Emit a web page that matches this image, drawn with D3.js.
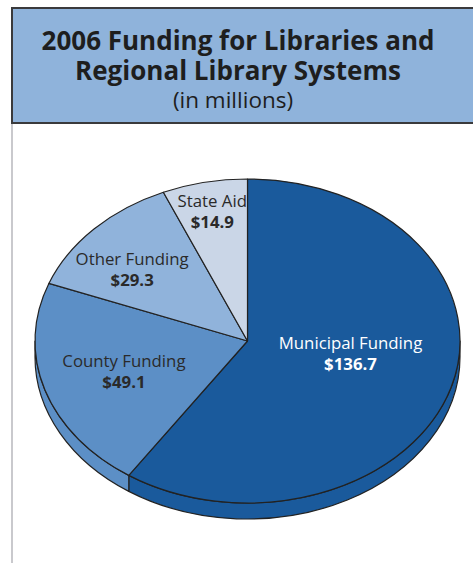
<!DOCTYPE html>
<html>
<head>
<meta charset="utf-8">
<script src="https://cdn.jsdelivr.net/npm/d3@7"></script>
<style>
  body { margin: 0; background: #fff; }
  svg { display: block; font-family: "Open Sans", "Noto Sans", sans-serif; }
</style>
</head>
<body>
<svg width="473" height="563"></svg>
<script>
// Data
const categories = ['Municipal Funding', 'County Funding', 'Other Funding', 'State Aid'];
const values = [136.7, 49.1, 29.3, 14.9];
const valueLabels = ['$136.7', '$49.1', '$29.3', '$14.9'];
const colors = ['#1a5a9c', '#5c8fc6', '#90b3db', '#cad6e7'];
const labelColors = ['#fff', '#2a2a2a', '#2a2a2a', '#2a2a2a'];
const labelRadius = [0.49, 0.61, 0.70, 0.82];
const labelPos = [0.46, 0.5, 0.4, 0.5];

const svg = d3.select('svg');
const W = 473, H = 563;

// Title box
svg.append('line')
  .attr('x1', 12).attr('x2', 12).attr('y1', 123).attr('y2', H)
  .attr('stroke', '#c9c9cd').attr('stroke-width', 2);

svg.append('rect')
  .attr('x', 12).attr('y', 8).attr('width', 480).attr('height', 115)
  .attr('fill', '#8fb3db').attr('stroke', '#3a3a3c').attr('stroke-width', 2);

const title = svg.append('text').attr('text-anchor', 'middle').attr('fill', '#1e1e1e');
title.append('tspan').attr('x', 238).attr('y', 50)
  .attr('font-weight', 'bold').attr('font-size', 26).text('2006 Funding for Libraries and');
title.append('tspan').attr('x', 238).attr('y', 80)
  .attr('font-weight', 'bold').attr('font-size', 26).text('Regional Library Systems');
title.append('tspan').attr('x', 233).attr('y', 108)
  .attr('font-size', 22.5).text('(in millions)');

// Pie geometry (tilted ellipse)
const cx = 247.5, cy = 341, rx = 212.5, ry = 162, depth = 16;

const pie = d3.pie().sort(null).value(d => d)(values);

const pt = (a, dy = 0) => [cx + rx * Math.sin(a), cy - ry * Math.cos(a) + dy];

function topPath(a0, a1) {
  const p0 = pt(a0), p1 = pt(a1);
  const large = a1 - a0 > Math.PI ? 1 : 0;
  return `M${cx},${cy}L${p0}A${rx},${ry} 0 ${large} 1 ${p1}Z`;
}

function sidePath(a0, a1) {
  const p0 = pt(a0), p1 = pt(a1), q1 = pt(a1, depth), q0 = pt(a0, depth);
  return `M${p0}A${rx},${ry} 0 0 1 ${p1}L${q1}A${rx},${ry} 0 0 0 ${q0}Z`;
}

// Side walls (front half only)
const g = svg.append('g').attr('stroke', '#222').attr('stroke-width', 1.2).attr('stroke-linejoin', 'round');
pie.forEach((d, i) => {
  const a0 = Math.max(d.startAngle, Math.PI / 2);
  const a1 = Math.min(d.endAngle, 3 * Math.PI / 2);
  if (a1 > a0) {
    g.append('path').attr('d', sidePath(a0, a1)).attr('fill', colors[i]);
  }
});

// Top faces
g.selectAll('path.top')
  .data(pie)
  .join('path')
  .attr('class', 'top')
  .attr('d', d => topPath(d.startAngle, d.endAngle))
  .attr('fill', (d, i) => colors[i]);

// Labels
const labels = svg.append('g').attr('text-anchor', 'middle').attr('font-size', 16.8);
pie.forEach((d, i) => {
  const a = d.startAngle + labelPos[i] * (d.endAngle - d.startAngle);
  const x = cx + rx * labelRadius[i] * Math.sin(a);
  const y = cy - ry * labelRadius[i] * Math.cos(a);
  const t = labels.append('text').attr('fill', labelColors[i]);
  t.append('tspan').attr('x', x).attr('y', y - 4).text(categories[i]);
  t.append('tspan').attr('x', x).attr('y', y + 17).attr('font-weight', 'bold').text(valueLabels[i]);
});
</script>
</body>
</html>
